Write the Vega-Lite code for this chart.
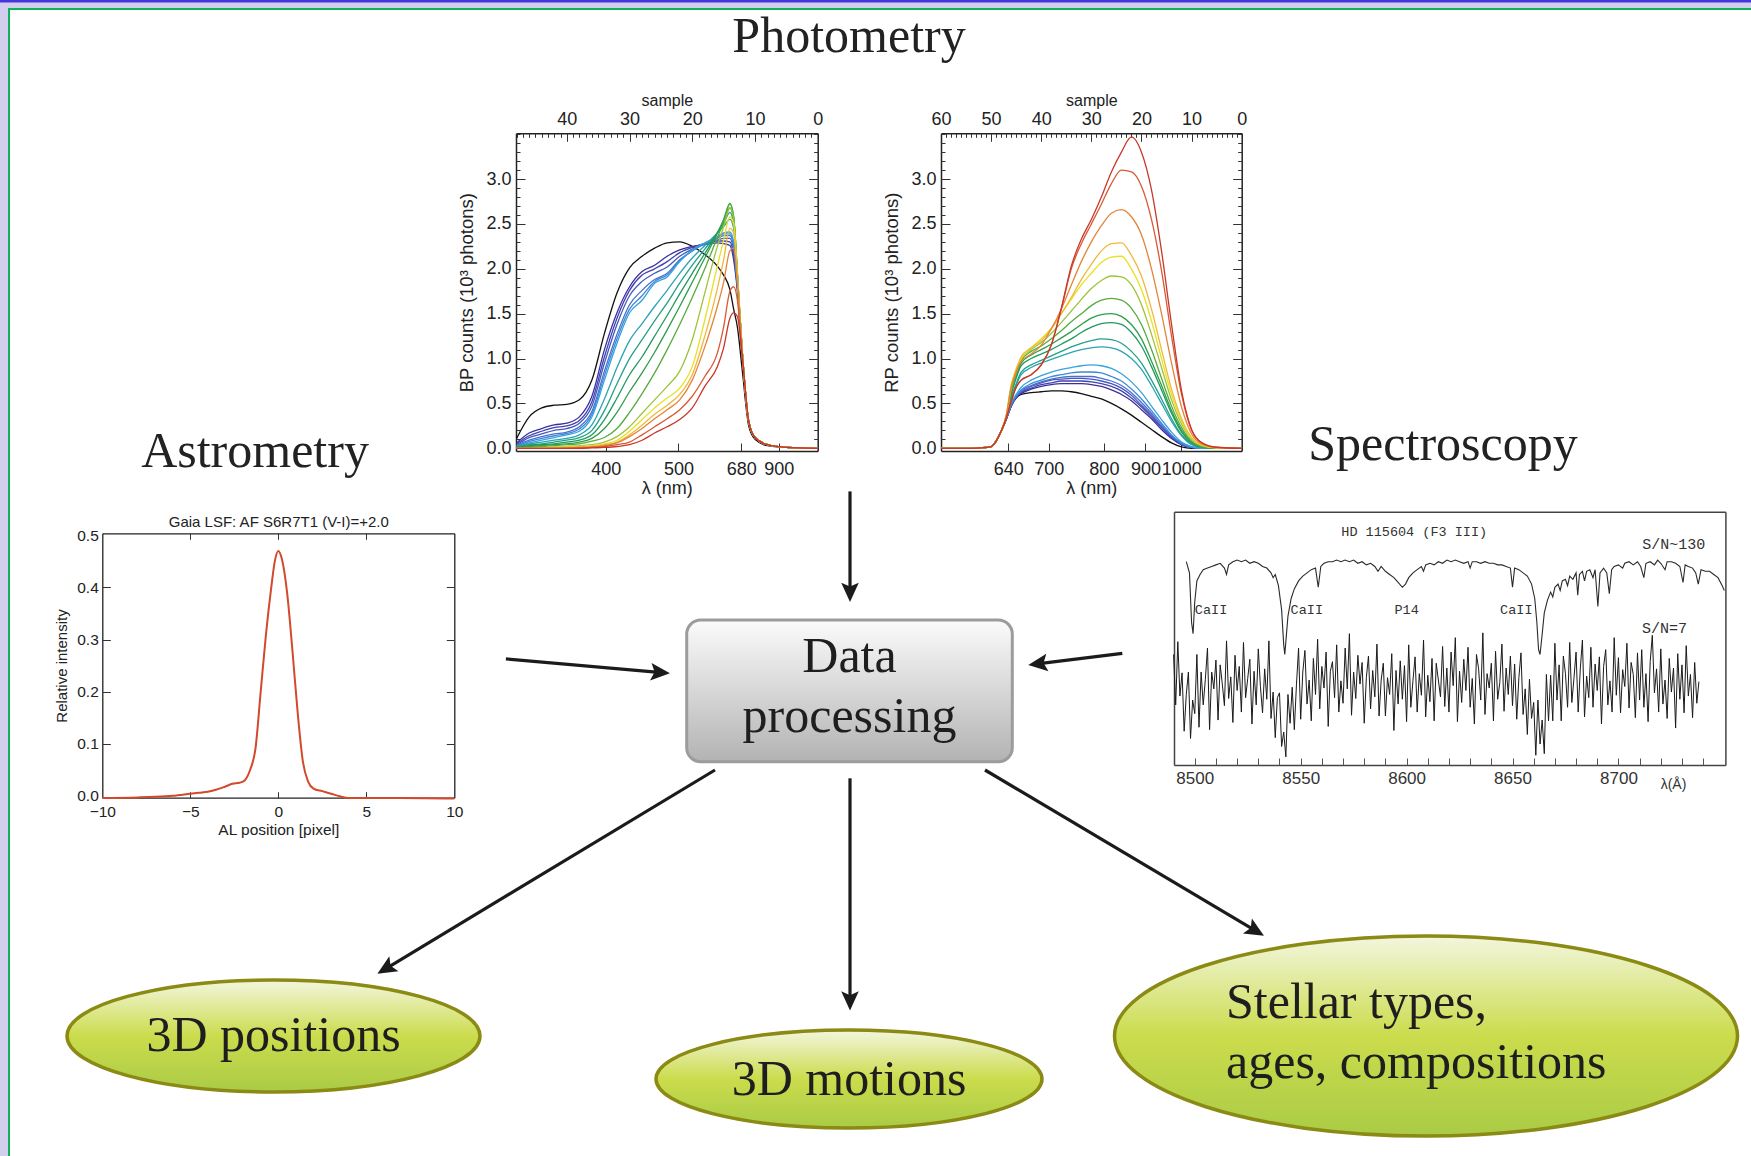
{
"$schema":"https://vega.github.io/schema/vega-lite/v6.json",
"width":1751,"height":1156,"autosize":{"type":"none"},"padding":0,"background":"#ffffff",
"config":{"view":{"stroke":null},"axis":{"grid":false,"labelFont":"Liberation Sans","titleFont":"Liberation Sans","labelColor":"#222222","titleColor":"#222222","domainColor":"#222222","tickColor":"#333333","titleFontWeight":"normal","labelFlush":false,"labelOverlap":false,"tickWidth":1,"domainWidth":1.5}},
"datasets":{
"page_bands":[{"x":0,"x2":1751,"y":0,"y2":9},{"x":0,"x2":9,"y":0,"y2":1156}],
"page_topline":[{"x":0,"x2":1751,"y":0,"y2":2.5}],
"page_green":[{"x":8,"x2":1751,"y":8,"y2":10},{"x":8,"x2":10,"y":8,"y2":1156}],
"section_titles":[{"label":"Photometry","x":849,"y":51.7},{"label":"Astrometry","x":255,"y":466.7},{"label":"Spectroscopy","x":1443,"y":460}],
"proc_box":[{"label":["Data","processing"],"x":686.7,"x2":1012.3,"y":620,"y2":761.7,"tx":849.5,"ty":671.7}],
"arrows":[{"link":"photometry","x0":850,"y0":491.4,"x1":850,"y1":591},{"link":"astrometry","x0":505.9,"y0":658.9,"x1":659,"y1":672.4},{"link":"spectroscopy","x0":1122.3,"y0":653.3,"x1":1039.2,"y1":663.6},{"link":"positions","x0":715,"y0":770,"x1":386.8,"y1":968.1},{"link":"motions","x0":850,"y0":778.3,"x1":850,"y1":999.6},{"link":"types","x0":985,"y0":770,"x1":1254.5,"y1":930.2}],
"outputs":[{"id":"pos","label":"3D positions","cx":273.5,"cy":1036,"tx":273.5,"ty":1051},{"id":"mot","label":"3D motions","cx":849,"cy":1079,"tx":849,"ty":1095},{"id":"typ","label":["Stellar types,","ages, compositions"],"cx":1426,"cy":1036,"tx":1226,"ty":1018}],
"bp":[
{"s":48,"c0":0.11,"c1":0.06,"c2":0.05,"c3":0.04,"c4":0.03,"c5":0.025,"c6":0.02,"c7":0.02,"c8":0.02,"c9":0.01,"c10":0.01,"c11":0,"c12":0,"c13":0,"c14":0,"c15":0,"c16":0,"c17":0},
{"s":46,"c0":0.35,"c1":0.17,"c2":0.14,"c3":0.12,"c4":0.09,"c5":0.075,"c6":0.06,"c7":0.05,"c8":0.04,"c9":0.03,"c10":0.02,"c11":0.01,"c12":0.005,"c13":0,"c14":0,"c15":0,"c16":0,"c17":0},
{"s":44,"c0":0.45,"c1":0.22,"c2":0.19,"c3":0.16,"c4":0.13,"c5":0.11,"c6":0.09,"c7":0.07,"c8":0.05,"c9":0.04,"c10":0.03,"c11":0.02,"c12":0.01,"c13":0.005,"c14":0,"c15":0,"c16":0,"c17":0},
{"s":42,"c0":0.48,"c1":0.26,"c2":0.23,"c3":0.2,"c4":0.16,"c5":0.14,"c6":0.12,"c7":0.09,"c8":0.07,"c9":0.05,"c10":0.04,"c11":0.03,"c12":0.015,"c13":0.01,"c14":0.005,"c15":0,"c16":0,"c17":0},
{"s":40,"c0":0.49,"c1":0.28,"c2":0.25,"c3":0.22,"c4":0.18,"c5":0.165,"c6":0.15,"c7":0.11,"c8":0.09,"c9":0.07,"c10":0.05,"c11":0.04,"c12":0.02,"c13":0.015,"c14":0.01,"c15":0.005,"c16":0,"c17":0},
{"s":38,"c0":0.54,"c1":0.35,"c2":0.31,"c3":0.28,"c4":0.24,"c5":0.215,"c6":0.19,"c7":0.15,"c8":0.12,"c9":0.09,"c10":0.07,"c11":0.05,"c12":0.03,"c13":0.02,"c14":0.015,"c15":0.01,"c16":0.005,"c17":0},
{"s":36,"c0":0.76,"c1":0.58,"c2":0.52,"c3":0.47,"c4":0.41,"c5":0.38,"c6":0.35,"c7":0.26,"c8":0.2,"c9":0.15,"c10":0.11,"c11":0.08,"c12":0.04,"c13":0.03,"c14":0.02,"c15":0.015,"c16":0.01,"c17":0.005},
{"s":34,"c0":1.28,"c1":1.1,"c2":1.02,"c3":0.95,"c4":0.86,"c5":0.81,"c6":0.76,"c7":0.55,"c8":0.42,"c9":0.32,"c10":0.22,"c11":0.12,"c12":0.07,"c13":0.05,"c14":0.04,"c15":0.03,"c16":0.02,"c17":0.01},
{"s":32,"c0":1.73,"c1":1.51,"c2":1.45,"c3":1.38,"c4":1.27,"c5":1.22,"c6":1.17,"c7":0.9,"c8":0.72,"c9":0.56,"c10":0.4,"c11":0.22,"c12":0.13,"c13":0.09,"c14":0.07,"c15":0.06,"c16":0.04,"c17":0.02},
{"s":30,"c0":2.01,"c1":1.8,"c2":1.76,"c3":1.7,"c4":1.6,"c5":1.55,"c6":1.51,"c7":1.2,"c8":1.0,"c9":0.82,"c10":0.63,"c11":0.4,"c12":0.24,"c13":0.19,"c14":0.15,"c15":0.13,"c16":0.07,"c17":0.04},
{"s":28,"c0":2.14,"c1":1.97,"c2":1.93,"c3":1.86,"c4":1.76,"c5":1.7,"c6":1.65,"c7":1.39,"c8":1.21,"c9":1.02,"c10":0.84,"c11":0.61,"c12":0.39,"c13":0.32,"c14":0.26,"c15":0.22,"c16":0.15,"c17":0.09},
{"s":26,"c0":2.23,"c1":2.04,"c2":2.0,"c3":1.95,"c4":1.88,"c5":1.86,"c6":1.84,"c7":1.58,"c8":1.42,"c9":1.25,"c10":1.07,"c11":0.84,"c12":0.54,"c13":0.45,"c14":0.38,"c15":0.33,"c16":0.24,"c17":0.17},
{"s":24,"c0":2.29,"c1":2.14,"c2":2.08,"c3":2.02,"c4":1.95,"c5":1.93,"c6":1.91,"c7":1.76,"c8":1.62,"c9":1.48,"c10":1.32,"c11":1.1,"c12":0.69,"c13":0.56,"c14":0.48,"c15":0.43,"c16":0.33,"c17":0.24},
{"s":22,"c0":2.3,"c1":2.21,"c2":2.18,"c3":2.14,"c4":2.1,"c5":2.09,"c6":2.08,"c7":1.95,"c8":1.84,"c9":1.72,"c10":1.58,"c11":1.38,"c12":0.86,"c13":0.67,"c14":0.6,"c15":0.54,"c16":0.43,"c17":0.32},
{"s":20,"c0":2.25,"c1":2.25,"c2":2.24,"c3":2.22,"c4":2.2,"c5":2.2,"c6":2.21,"c7":2.12,"c8":2.04,"c9":1.95,"c10":1.85,"c11":1.68,"c12":1.21,"c13":0.91,"c14":0.82,"c15":0.76,"c16":0.58,"c17":0.45},
{"s":18,"c0":2.16,"c1":2.27,"c2":2.28,"c3":2.28,"c4":2.28,"c5":2.28,"c6":2.29,"c7":2.26,"c8":2.22,"c9":2.17,"c10":2.12,"c11":2.0,"c12":1.73,"c13":1.43,"c14":1.25,"c15":1.13,"c16":0.8,"c17":0.69},
{"s":16,"c0":2.03,"c1":2.29,"c2":2.31,"c3":2.32,"c4":2.34,"c5":2.35,"c6":2.36,"c7":2.4,"c8":2.4,"c9":2.4,"c10":2.4,"c11":2.35,"c12":2.25,"c13":2.03,"c14":1.78,"c15":1.58,"c16":1.06,"c17":0.91},
{"s":15,"c0":1.93,"c1":2.28,"c2":2.31,"c3":2.34,"c4":2.37,"c5":2.39,"c6":2.4,"c7":2.47,"c8":2.5,"c9":2.52,"c10":2.55,"c11":2.52,"c12":2.47,"c13":2.32,"c14":2.1,"c15":1.85,"c16":1.35,"c17":1.12},
{"s":14,"c0":1.77,"c1":2.26,"c2":2.3,"c3":2.34,"c4":2.37,"c5":2.39,"c6":2.41,"c7":2.55,"c8":2.63,"c9":2.68,"c10":2.73,"c11":2.72,"c12":2.68,"c13":2.58,"c14":2.45,"c15":2.2,"c16":1.75,"c17":1.45},
{"s":13.4,"c0":1.55,"c1":2.1,"c2":2.15,"c3":2.2,"c4":2.25,"c5":2.27,"c6":2.3,"c7":2.45,"c8":2.5,"c9":2.55,"c10":2.58,"c11":2.58,"c12":2.56,"c13":2.5,"c14":2.4,"c15":2.23,"c16":1.8,"c17":1.51},
{"s":12.8,"c0":1.35,"c1":1.75,"c2":1.78,"c3":1.8,"c4":1.82,"c5":1.83,"c6":1.84,"c7":1.88,"c8":1.9,"c9":1.92,"c10":1.95,"c11":1.95,"c12":1.95,"c13":1.92,"c14":1.9,"c15":1.85,"c16":1.65,"c17":1.47},
{"s":12,"c0":0.85,"c1":1.0,"c2":1.02,"c3":1.03,"c4":1.04,"c5":1.05,"c6":1.05,"c7":1.05,"c8":1.05,"c9":1.05,"c10":1.05,"c11":1.05,"c12":1.05,"c13":1.05,"c14":1.05,"c15":1.05,"c16":1.0,"c17":1.0},
{"s":11,"c0":0.25,"c1":0.3,"c2":0.3,"c3":0.3,"c4":0.3,"c5":0.3,"c6":0.3,"c7":0.3,"c8":0.3,"c9":0.3,"c10":0.3,"c11":0.3,"c12":0.3,"c13":0.3,"c14":0.3,"c15":0.3,"c16":0.3,"c17":0.3},
{"s":10,"c0":0.1,"c1":0.12,"c2":0.12,"c3":0.12,"c4":0.12,"c5":0.12,"c6":0.12,"c7":0.12,"c8":0.12,"c9":0.12,"c10":0.12,"c11":0.12,"c12":0.12,"c13":0.12,"c14":0.12,"c15":0.12,"c16":0.12,"c17":0.12},
{"s":8,"c0":0.03,"c1":0.04,"c2":0.04,"c3":0.04,"c4":0.04,"c5":0.04,"c6":0.04,"c7":0.04,"c8":0.04,"c9":0.04,"c10":0.04,"c11":0.04,"c12":0.04,"c13":0.04,"c14":0.04,"c15":0.04,"c16":0.04,"c17":0.04},
{"s":5,"c0":0.01,"c1":0.01,"c2":0.01,"c3":0.01,"c4":0.01,"c5":0.01,"c6":0.01,"c7":0.01,"c8":0.01,"c9":0.01,"c10":0.01,"c11":0.01,"c12":0.01,"c13":0.01,"c14":0.01,"c15":0.01,"c16":0.01,"c17":0.01},
{"s":0,"c0":0,"c1":0,"c2":0,"c3":0,"c4":0,"c5":0,"c6":0,"c7":0,"c8":0,"c9":0,"c10":0,"c11":0,"c12":0,"c13":0,"c14":0,"c15":0,"c16":0,"c17":0}
],
"rp":[
{"s":60,"c0":0,"c1":0,"c2":0,"c3":0,"c4":0,"c5":0,"c6":0,"c7":0,"c8":0,"c9":0,"c10":0,"c11":0,"c12":0,"c13":0,"c14":0,"c15":0,"c16":0,"c17":0},
{"s":54,"c0":0,"c1":0,"c2":0,"c3":0,"c4":0,"c5":0,"c6":0,"c7":0,"c8":0,"c9":0,"c10":0,"c11":0,"c12":0,"c13":0,"c14":0,"c15":0,"c16":0,"c17":0},
{"s":52,"c0":0.005,"c1":0.005,"c2":0.005,"c3":0.005,"c4":0.005,"c5":0.005,"c6":0.005,"c7":0.005,"c8":0.005,"c9":0.005,"c10":0.005,"c11":0.005,"c12":0.005,"c13":0.005,"c14":0.005,"c15":0.005,"c16":0.005,"c17":0.005},
{"s":50,"c0":0.02,"c1":0.02,"c2":0.02,"c3":0.02,"c4":0.02,"c5":0.02,"c6":0.02,"c7":0.02,"c8":0.02,"c9":0.02,"c10":0.02,"c11":0.02,"c12":0.02,"c13":0.02,"c14":0.02,"c15":0.02,"c16":0.02,"c17":0.02},
{"s":49,"c0":0.08,"c1":0.08,"c2":0.08,"c3":0.08,"c4":0.08,"c5":0.08,"c6":0.08,"c7":0.08,"c8":0.08,"c9":0.08,"c10":0.08,"c11":0.08,"c12":0.08,"c13":0.08,"c14":0.08,"c15":0.08,"c16":0.08,"c17":0.08},
{"s":48,"c0":0.19,"c1":0.19,"c2":0.19,"c3":0.19,"c4":0.19,"c5":0.19,"c6":0.19,"c7":0.19,"c8":0.19,"c9":0.19,"c10":0.19,"c11":0.19,"c12":0.19,"c13":0.19,"c14":0.19,"c15":0.19,"c16":0.19,"c17":0.19},
{"s":47,"c0":0.32,"c1":0.32,"c2":0.32,"c3":0.32,"c4":0.32,"c5":0.32,"c6":0.32,"c7":0.34,"c8":0.34,"c9":0.34,"c10":0.34,"c11":0.34,"c12":0.36,"c13":0.36,"c14":0.36,"c15":0.36,"c16":0.33,"c17":0.33},
{"s":46,"c0":0.47,"c1":0.47,"c2":0.47,"c3":0.48,"c4":0.48,"c5":0.49,"c6":0.5,"c7":0.55,"c8":0.57,"c9":0.6,"c10":0.62,"c11":0.64,"c12":0.66,"c13":0.7,"c14":0.7,"c15":0.68,"c16":0.52,"c17":0.52},
{"s":45,"c0":0.56,"c1":0.57,"c2":0.57,"c3":0.58,"c4":0.58,"c5":0.58,"c6":0.6,"c7":0.7,"c8":0.72,"c9":0.78,"c10":0.8,"c11":0.83,"c12":0.86,"c13":0.88,"c14":0.88,"c15":0.85,"c16":0.68,"c17":0.68},
{"s":44,"c0":0.6,"c1":0.61,"c2":0.62,"c3":0.63,"c4":0.64,"c5":0.65,"c6":0.68,"c7":0.82,"c8":0.85,"c9":0.92,"c10":0.95,"c11":0.98,"c12":1.0,"c13":1.0,"c14":1.02,"c15":0.97,"c16":0.76,"c17":0.76},
{"s":42,"c0":0.62,"c1":0.66,"c2":0.67,"c3":0.69,"c4":0.7,"c5":0.72,"c6":0.76,"c7":0.9,"c8":0.93,"c9":1.0,"c10":1.04,"c11":1.08,"c12":1.1,"c13":1.12,"c14":1.12,"c15":1.05,"c16":0.82,"c17":0.82},
{"s":40,"c0":0.63,"c1":0.69,"c2":0.71,"c3":0.73,"c4":0.74,"c5":0.76,"c6":0.81,"c7":0.95,"c8":0.98,"c9":1.05,"c10":1.1,"c11":1.14,"c12":1.18,"c13":1.22,"c14":1.2,"c15":1.15,"c16":0.93,"c17":0.93},
{"s":38,"c0":0.64,"c1":0.71,"c2":0.73,"c3":0.76,"c4":0.77,"c5":0.8,"c6":0.85,"c7":0.99,"c8":1.03,"c9":1.1,"c10":1.16,"c11":1.22,"c12":1.28,"c13":1.34,"c14":1.33,"c15":1.33,"c16":1.15,"c17":1.15},
{"s":36,"c0":0.64,"c1":0.72,"c2":0.75,"c3":0.77,"c4":0.79,"c5":0.82,"c6":0.88,"c7":1.03,"c8":1.08,"c9":1.16,"c10":1.23,"c11":1.31,"c12":1.4,"c13":1.5,"c14":1.5,"c15":1.55,"c16":1.55,"c17":1.56},
{"s":34,"c0":0.63,"c1":0.72,"c2":0.75,"c3":0.78,"c4":0.8,"c5":0.84,"c6":0.9,"c7":1.07,"c8":1.13,"c9":1.22,"c10":1.3,"c11":1.41,"c12":1.53,"c13":1.66,"c14":1.68,"c15":1.82,"c16":2.0,"c17":2.03},
{"s":32,"c0":0.61,"c1":0.72,"c2":0.75,"c3":0.78,"c4":0.8,"c5":0.85,"c6":0.92,"c7":1.1,"c8":1.17,"c9":1.29,"c10":1.38,"c11":1.5,"c12":1.66,"c13":1.82,"c14":1.88,"c15":2.08,"c16":2.28,"c17":2.33},
{"s":30,"c0":0.58,"c1":0.71,"c2":0.74,"c3":0.77,"c4":0.8,"c5":0.85,"c6":0.93,"c7":1.12,"c8":1.2,"c9":1.35,"c10":1.45,"c11":1.59,"c12":1.78,"c13":1.95,"c14":2.05,"c15":2.3,"c16":2.5,"c17":2.55},
{"s":28,"c0":0.55,"c1":0.69,"c2":0.72,"c3":0.75,"c4":0.78,"c5":0.84,"c6":0.92,"c7":1.13,"c8":1.22,"c9":1.39,"c10":1.49,"c11":1.65,"c12":1.87,"c13":2.07,"c14":2.2,"c15":2.48,"c16":2.72,"c17":2.8},
{"s":26,"c0":0.5,"c1":0.65,"c2":0.69,"c3":0.72,"c4":0.75,"c5":0.8,"c6":0.89,"c7":1.12,"c8":1.21,"c9":1.4,"c10":1.5,"c11":1.67,"c12":1.92,"c13":2.13,"c14":2.28,"c15":2.62,"c16":2.95,"c17":3.08},
{"s":24,"c0":0.44,"c1":0.6,"c2":0.64,"c3":0.67,"c4":0.7,"c5":0.75,"c6":0.83,"c7":1.08,"c8":1.17,"c9":1.38,"c10":1.47,"c11":1.65,"c12":1.91,"c13":2.14,"c14":2.29,"c15":2.66,"c16":3.1,"c17":3.3},
{"s":22,"c0":0.37,"c1":0.53,"c2":0.56,"c3":0.59,"c4":0.62,"c5":0.66,"c6":0.74,"c7":1.0,"c8":1.08,"c9":1.29,"c10":1.38,"c11":1.56,"c12":1.82,"c13":2.0,"c14":2.15,"c15":2.58,"c16":3.08,"c17":3.47},
{"s":20,"c0":0.29,"c1":0.43,"c2":0.46,"c3":0.48,"c4":0.51,"c5":0.55,"c6":0.62,"c7":0.88,"c8":0.95,"c9":1.14,"c10":1.22,"c11":1.38,"c12":1.6,"c13":1.77,"c14":1.92,"c15":2.38,"c16":2.92,"c17":3.3},
{"s":18,"c0":0.21,"c1":0.33,"c2":0.35,"c3":0.37,"c4":0.39,"c5":0.42,"c6":0.47,"c7":0.7,"c8":0.76,"c9":0.91,"c10":0.97,"c11":1.1,"c12":1.27,"c13":1.42,"c14":1.55,"c15":2.0,"c16":2.55,"c17":2.88},
{"s":16,"c0":0.13,"c1":0.21,"c2":0.23,"c3":0.24,"c4":0.26,"c5":0.28,"c6":0.32,"c7":0.5,"c8":0.55,"c9":0.65,"c10":0.7,"c11":0.78,"c12":0.9,"c13":1.0,"c14":1.1,"c15":1.5,"c16":1.98,"c17":2.2},
{"s":14,"c0":0.06,"c1":0.11,"c2":0.12,"c3":0.13,"c4":0.14,"c5":0.15,"c6":0.18,"c7":0.3,"c8":0.33,"c9":0.39,"c10":0.42,"c11":0.47,"c12":0.54,"c13":0.6,"c14":0.66,"c15":0.95,"c16":1.25,"c17":1.38},
{"s":12,"c0":0.015,"c1":0.04,"c2":0.04,"c3":0.05,"c4":0.05,"c5":0.06,"c6":0.07,"c7":0.14,"c8":0.15,"c9":0.18,"c10":0.2,"c11":0.23,"c12":0.27,"c13":0.3,"c14":0.33,"c15":0.46,"c16":0.6,"c17":0.64},
{"s":10,"c0":0,"c1":0.01,"c2":0.01,"c3":0.01,"c4":0.01,"c5":0.015,"c6":0.02,"c7":0.04,"c8":0.05,"c9":0.06,"c10":0.07,"c11":0.08,"c12":0.1,"c13":0.11,"c14":0.12,"c15":0.16,"c16":0.2,"c17":0.21},
{"s":8,"c0":0,"c1":0,"c2":0,"c3":0,"c4":0,"c5":0,"c6":0,"c7":0.01,"c8":0.01,"c9":0.015,"c10":0.02,"c11":0.02,"c12":0.03,"c13":0.035,"c14":0.04,"c15":0.05,"c16":0.06,"c17":0.065},
{"s":5,"c0":0,"c1":0,"c2":0,"c3":0,"c4":0,"c5":0,"c6":0,"c7":0,"c8":0,"c9":0,"c10":0,"c11":0,"c12":0.005,"c13":0.005,"c14":0.008,"c15":0.01,"c16":0.01,"c17":0.012},
{"s":0,"c0":0,"c1":0,"c2":0,"c3":0,"c4":0,"c5":0,"c6":0,"c7":0,"c8":0,"c9":0,"c10":0,"c11":0,"c12":0,"c13":0,"c14":0,"c15":0,"c16":0,"c17":0}
],
"lsf":[{"pos":-10,"intensity":-0.004},{"pos":-8,"intensity":-0.003},{"pos":-7,"intensity":-0.002},{"pos":-6,"intensity":0.0},{"pos":-5,"intensity":0.004},{"pos":-4.5,"intensity":0.006},{"pos":-4,"intensity":0.008},{"pos":-3.5,"intensity":0.012},{"pos":-3,"intensity":0.018},{"pos":-2.6,"intensity":0.023},{"pos":-2.2,"intensity":0.025},{"pos":-1.9,"intensity":0.03},{"pos":-1.6,"intensity":0.05},{"pos":-1.3,"intensity":0.09},{"pos":-1.0,"intensity":0.2},{"pos":-0.7,"intensity":0.31},{"pos":-0.4,"intensity":0.4},{"pos":-0.2,"intensity":0.45},{"pos":0,"intensity":0.47},{"pos":0.2,"intensity":0.455},{"pos":0.5,"intensity":0.39},{"pos":0.8,"intensity":0.28},{"pos":1.1,"intensity":0.16},{"pos":1.4,"intensity":0.065},{"pos":1.7,"intensity":0.027},{"pos":2.0,"intensity":0.014},{"pos":2.5,"intensity":0.009},{"pos":3.0,"intensity":0.004},{"pos":3.5,"intensity":-0.001},{"pos":4.0,"intensity":-0.004},{"pos":5,"intensity":-0.004},{"pos":7,"intensity":-0.004},{"pos":10,"intensity":-0.005}],
"spec_hi":[{"wl":8496,"flux":1.0},{"wl":8497.5,"flux":0.93},{"wl":8498.5,"flux":0.62},{"wl":8499.2,"flux":0.55},{"wl":8500,"flux":0.75},{"wl":8501,"flux":0.88},{"wl":8502.5,"flux":0.92},{"wl":8504,"flux":0.95},{"wl":8506,"flux":0.96},{"wl":8508,"flux":0.97},{"wl":8510,"flux":0.98},{"wl":8512,"flux":0.99},{"wl":8514,"flux":0.96},{"wl":8515,"flux":0.92},{"wl":8516,"flux":0.98},{"wl":8518,"flux":1.0},{"wl":8520,"flux":1.01},{"wl":8522,"flux":1.0},{"wl":8524,"flux":1.01},{"wl":8526,"flux":0.99},{"wl":8528,"flux":1.0},{"wl":8530,"flux":0.99},{"wl":8532,"flux":0.97},{"wl":8534,"flux":0.96},{"wl":8536,"flux":0.93},{"wl":8537,"flux":0.9},{"wl":8538,"flux":0.92},{"wl":8539.5,"flux":0.85},{"wl":8541,"flux":0.7},{"wl":8542,"flux":0.48},{"wl":8542.5,"flux":0.42},{"wl":8543,"flux":0.5},{"wl":8544,"flux":0.66},{"wl":8545.5,"flux":0.77},{"wl":8547,"flux":0.83},{"wl":8549,"flux":0.88},{"wl":8551,"flux":0.91},{"wl":8553,"flux":0.93},{"wl":8555,"flux":0.95},{"wl":8557,"flux":0.96},{"wl":8558.3,"flux":0.84},{"wl":8559.5,"flux":0.97},{"wl":8561,"flux":0.99},{"wl":8563,"flux":1.0},{"wl":8565,"flux":1.0},{"wl":8567,"flux":1.01},{"wl":8569,"flux":1.0},{"wl":8571,"flux":1.01},{"wl":8573,"flux":1.0},{"wl":8575,"flux":1.01},{"wl":8577,"flux":0.99},{"wl":8579,"flux":1.0},{"wl":8581,"flux":0.98},{"wl":8583,"flux":0.99},{"wl":8585,"flux":0.97},{"wl":8586.5,"flux":0.94},{"wl":8588,"flux":0.97},{"wl":8590,"flux":0.94},{"wl":8592,"flux":0.92},{"wl":8594,"flux":0.9},{"wl":8596,"flux":0.87},{"wl":8598,"flux":0.84},{"wl":8599.5,"flux":0.86},{"wl":8601,"flux":0.9},{"wl":8603,"flux":0.93},{"wl":8605,"flux":0.95},{"wl":8607,"flux":0.97},{"wl":8608,"flux":0.94},{"wl":8609,"flux":0.98},{"wl":8611,"flux":0.99},{"wl":8613,"flux":0.98},{"wl":8615,"flux":1.0},{"wl":8617,"flux":0.99},{"wl":8619,"flux":1.01},{"wl":8621,"flux":1.0},{"wl":8623,"flux":1.01},{"wl":8625,"flux":1.0},{"wl":8627,"flux":0.99},{"wl":8629,"flux":1.0},{"wl":8630,"flux":0.96},{"wl":8631,"flux":1.0},{"wl":8633,"flux":1.0},{"wl":8635,"flux":0.99},{"wl":8637,"flux":1.0},{"wl":8639,"flux":0.99},{"wl":8641,"flux":0.99},{"wl":8643,"flux":0.98},{"wl":8645,"flux":0.98},{"wl":8647,"flux":0.97},{"wl":8649,"flux":0.96},{"wl":8650,"flux":0.84},{"wl":8651,"flux":0.96},{"wl":8653,"flux":0.95},{"wl":8655,"flux":0.93},{"wl":8657,"flux":0.91},{"wl":8659,"flux":0.86},{"wl":8660.5,"flux":0.77},{"wl":8661.5,"flux":0.62},{"wl":8662.3,"flux":0.45},{"wl":8663,"flux":0.42},{"wl":8663.8,"flux":0.52},{"wl":8665,"flux":0.68},{"wl":8666.5,"flux":0.76},{"wl":8668,"flux":0.81},{"wl":8669,"flux":0.78},{"wl":8670,"flux":0.84},{"wl":8671.5,"flux":0.86},{"wl":8672.5,"flux":0.82},{"wl":8673.5,"flux":0.88},{"wl":8675,"flux":0.89},{"wl":8676,"flux":0.85},{"wl":8677,"flux":0.91},{"wl":8678.5,"flux":0.89},{"wl":8680,"flux":0.93},{"wl":8680.8,"flux":0.79},{"wl":8681.6,"flux":0.92},{"wl":8683,"flux":0.94},{"wl":8684,"flux":0.88},{"wl":8685,"flux":0.94},{"wl":8686.5,"flux":0.95},{"wl":8688,"flux":0.9},{"wl":8689,"flux":0.95},{"wl":8690.3,"flux":0.72},{"wl":8691.3,"flux":0.93},{"wl":8693,"flux":0.96},{"wl":8694.5,"flux":0.93},{"wl":8695.7,"flux":0.8},{"wl":8696.8,"flux":0.95},{"wl":8698,"flux":0.97},{"wl":8700,"flux":0.98},{"wl":8702,"flux":0.96},{"wl":8703,"flux":0.99},{"wl":8705,"flux":1.0},{"wl":8707,"flux":0.98},{"wl":8709,"flux":1.0},{"wl":8710.5,"flux":0.97},{"wl":8712,"flux":0.9},{"wl":8713,"flux":0.99},{"wl":8715,"flux":1.0},{"wl":8717,"flux":0.98},{"wl":8718.5,"flux":1.01},{"wl":8720,"flux":0.99},{"wl":8722,"flux":0.95},{"wl":8723,"flux":1.0},{"wl":8725,"flux":1.0},{"wl":8727,"flux":0.99},{"wl":8729,"flux":0.97},{"wl":8730.5,"flux":0.87},{"wl":8731.5,"flux":0.98},{"wl":8733,"flux":0.97},{"wl":8735,"flux":0.96},{"wl":8736.5,"flux":0.93},{"wl":8737.7,"flux":0.86},{"wl":8739,"flux":0.95},{"wl":8741,"flux":0.94},{"wl":8743,"flux":0.94},{"wl":8745,"flux":0.92},{"wl":8747,"flux":0.9},{"wl":8749,"flux":0.85},{"wl":8750,"flux":0.82}],
"spec_lo":[{"wl":8490,"flux":0.42},{"wl":8491,"flux":0.105},{"wl":8492,"flux":0.5},{"wl":8493,"flux":0.16},{"wl":8494,"flux":0.305},{"wl":8495,"flux":-0.06},{"wl":8496,"flux":0.17},{"wl":8497,"flux":0.31},{"wl":8498,"flux":-0.105},{"wl":8499,"flux":0.135},
{"wl":8500,"flux":0.05},{"wl":8501,"flux":0.42},{"wl":8502,"flux":-0.035},{"wl":8503,"flux":0.31},{"wl":8504,"flux":0.105},{"wl":8505,"flux":0.265},{"wl":8506,"flux":0.46},{"wl":8507,"flux":-0.05},{"wl":8508,"flux":0.31},{"wl":8509,"flux":0.205},
{"wl":8510,"flux":0.385},{"wl":8511,"flux":0.01},{"wl":8512,"flux":0.355},{"wl":8513,"flux":0.235},{"wl":8514,"flux":0.1},{"wl":8515,"flux":0.505},{"wl":8516,"flux":0.145},{"wl":8517,"flux":0.28},{"wl":8518,"flux":-0.005},{"wl":8519,"flux":0.415},
{"wl":8520,"flux":0.195},{"wl":8521,"flux":0.345},{"wl":8522,"flux":0.06},{"wl":8523,"flux":0.495},{"wl":8524,"flux":0.15},{"wl":8525,"flux":0.27},{"wl":8526,"flux":0.39},{"wl":8527,"flux":-0.015},{"wl":8528,"flux":0.315},{"wl":8529,"flux":0.105},
{"wl":8530,"flux":0.455},{"wl":8531,"flux":0.22},{"wl":8532,"flux":0.055},{"wl":8533,"flux":0.33},{"wl":8534,"flux":0.14},{"wl":8535,"flux":0.505},{"wl":8536,"flux":0.02},{"wl":8537,"flux":0.185},{"wl":8538,"flux":-0.1},{"wl":8539,"flux":0.15},
{"wl":8540,"flux":0.18},{"wl":8541,"flux":-0.155},{"wl":8542,"flux":-0.065},{"wl":8543,"flux":-0.22},{"wl":8544,"flux":0.17},{"wl":8545,"flux":-0.01},{"wl":8546,"flux":0.215},{"wl":8547,"flux":-0.05},{"wl":8548,"flux":0.23},{"wl":8549,"flux":0.46},
{"wl":8550,"flux":0.015},{"wl":8551,"flux":0.31},{"wl":8552,"flux":0.445},{"wl":8553,"flux":0.11},{"wl":8554,"flux":0.26},{"wl":8555,"flux":0.005},{"wl":8556,"flux":0.395},{"wl":8557,"flux":0.17},{"wl":8558,"flux":0.515},{"wl":8559,"flux":0.08},
{"wl":8560,"flux":0.345},{"wl":8561,"flux":0.21},{"wl":8562,"flux":0.435},{"wl":8563,"flux":-0.03},{"wl":8564,"flux":0.315},{"wl":8565,"flux":0.375},{"wl":8566,"flux":0.15},{"wl":8567,"flux":0.48},{"wl":8568,"flux":0.06},{"wl":8569,"flux":0.255},
{"wl":8570,"flux":0.115},{"wl":8571,"flux":0.46},{"wl":8572,"flux":0.205},{"wl":8573,"flux":0.55},{"wl":8574,"flux":0.04},{"wl":8575,"flux":0.31},{"wl":8576,"flux":0.145},{"wl":8577,"flux":0.415},{"wl":8578,"flux":0.235},{"wl":8579,"flux":0.37},
{"wl":8580,"flux":-0.01},{"wl":8581,"flux":0.275},{"wl":8582,"flux":0.41},{"wl":8583,"flux":0.08},{"wl":8584,"flux":0.32},{"wl":8585,"flux":0.155},{"wl":8586,"flux":0.485},{"wl":8587,"flux":0.035},{"wl":8588,"flux":0.26},{"wl":8589,"flux":0.365},
{"wl":8590,"flux":0.035},{"wl":8591,"flux":0.275},{"wl":8592,"flux":0.17},{"wl":8593,"flux":0.425},{"wl":8594,"flux":-0.055},{"wl":8595,"flux":0.32},{"wl":8596,"flux":0.11},{"wl":8597,"flux":0.38},{"wl":8598,"flux":0.14},{"wl":8599,"flux":0.35},
{"wl":8600,"flux":0.0},{"wl":8601,"flux":0.48},{"wl":8602,"flux":0.09},{"wl":8603,"flux":0.255},{"wl":8604,"flux":0.405},{"wl":8605,"flux":0.06},{"wl":8606,"flux":0.3},{"wl":8607,"flux":0.165},{"wl":8608,"flux":0.51},{"wl":8609,"flux":0.03},
{"wl":8610,"flux":0.29},{"wl":8611,"flux":0.125},{"wl":8612,"flux":0.395},{"wl":8613,"flux":0.005},{"wl":8614,"flux":0.365},{"wl":8615,"flux":0.26},{"wl":8616,"flux":0.155},{"wl":8617,"flux":0.47},{"wl":8618,"flux":0.095},{"wl":8619,"flux":0.335},
{"wl":8620,"flux":0.06},{"wl":8621,"flux":0.435},{"wl":8622,"flux":0.225},{"wl":8623,"flux":0.525},{"wl":8624,"flux":0.0},{"wl":8625,"flux":0.315},{"wl":8626,"flux":0.12},{"wl":8627,"flux":0.39},{"wl":8628,"flux":0.195},{"wl":8629,"flux":0.465},
{"wl":8630,"flux":0.09},{"wl":8631,"flux":0.27},{"wl":8632,"flux":-0.015},{"wl":8633,"flux":0.42},{"wl":8634,"flux":0.33},{"wl":8635,"flux":0.135},{"wl":8636,"flux":0.555},{"wl":8637,"flux":0.045},{"wl":8638,"flux":0.3},{"wl":8639,"flux":0.21},
{"wl":8640,"flux":0.365},{"wl":8641,"flux":0.005},{"wl":8642,"flux":0.44},{"wl":8643,"flux":0.14},{"wl":8644,"flux":0.245},{"wl":8645,"flux":0.485},{"wl":8646,"flux":0.065},{"wl":8647,"flux":0.335},{"wl":8648,"flux":0.17},{"wl":8649,"flux":0.41},
{"wl":8650,"flux":0.1},{"wl":8651,"flux":0.36},{"wl":8652,"flux":0.015},{"wl":8653,"flux":0.275},{"wl":8654,"flux":0.43},{"wl":8655,"flux":0.045},{"wl":8656,"flux":0.205},{"wl":8657,"flux":-0.08},{"wl":8658,"flux":0.265},{"wl":8659,"flux":0.02},
{"wl":8660,"flux":0.12},{"wl":8661,"flux":-0.21},{"wl":8662,"flux":0.135},{"wl":8663,"flux":-0.14},{"wl":8664,"flux":0.01},{"wl":8665,"flux":-0.2},{"wl":8666,"flux":0.295},{"wl":8667,"flux":0.005},{"wl":8668,"flux":0.29},{"wl":8669,"flux":0.005},
{"wl":8670,"flux":0.49},{"wl":8671,"flux":0.135},{"wl":8672,"flux":0.355},{"wl":8673,"flux":0.005},{"wl":8674,"flux":0.41},{"wl":8675,"flux":0.3},{"wl":8676,"flux":0.09},{"wl":8677,"flux":0.495},{"wl":8678,"flux":0.12},{"wl":8679,"flux":0.27},
{"wl":8680,"flux":0.435},{"wl":8681,"flux":0.06},{"wl":8682,"flux":0.33},{"wl":8683,"flux":0.51},{"wl":8684,"flux":0.03},{"wl":8685,"flux":0.285},{"wl":8686,"flux":0.15},{"wl":8687,"flux":0.465},{"wl":8688,"flux":0.09},{"wl":8689,"flux":0.36},
{"wl":8690,"flux":0.195},{"wl":8691,"flux":0.405},{"wl":8692,"flux":-0.015},{"wl":8693,"flux":0.345},{"wl":8694,"flux":0.45},{"wl":8695,"flux":0.105},{"wl":8696,"flux":0.255},{"wl":8697,"flux":0.06},{"wl":8698,"flux":0.525},{"wl":8699,"flux":0.165},
{"wl":8700,"flux":0.4},{"wl":8701,"flux":0.055},{"wl":8702,"flux":0.325},{"wl":8703,"flux":0.22},{"wl":8704,"flux":0.49},{"wl":8705,"flux":0.085},{"wl":8706,"flux":0.37},{"wl":8707,"flux":0.295},{"wl":8708,"flux":0.025},{"wl":8709,"flux":0.43},
{"wl":8710,"flux":0.135},{"wl":8711,"flux":0.45},{"wl":8712,"flux":0.09},{"wl":8713,"flux":0.3},{"wl":8714,"flux":0.0},{"wl":8715,"flux":0.375},{"wl":8716,"flux":0.54},{"wl":8717,"flux":0.18},{"wl":8718,"flux":0.33},{"wl":8719,"flux":0.06},
{"wl":8720,"flux":0.455},{"wl":8721,"flux":0.11},{"wl":8722,"flux":0.26},{"wl":8723,"flux":0.02},{"wl":8724,"flux":0.395},{"wl":8725,"flux":0.185},{"wl":8726,"flux":0.335},{"wl":8727,"flux":-0.04},{"wl":8728,"flux":0.425},{"wl":8729,"flux":0.14},
{"wl":8730,"flux":0.355},{"wl":8731,"flux":0.055},{"wl":8732,"flux":0.475},{"wl":8733,"flux":0.16},{"wl":8734,"flux":0.295},{"wl":8735,"flux":0.025},{"wl":8736,"flux":0.37},{"wl":8737,"flux":0.115},{"wl":8738,"flux":0.25}],
"spec_notes":[{"wl":8603.6,"flux":1.184,"label":"HD 115604 (F3 III)"},{"wl":8507.7,"flux":0.7,"label":"CaII"},{"wl":8552.9,"flux":0.7,"label":"CaII"},{"wl":8600,"flux":0.7,"label":"P14"},{"wl":8651.8,"flux":0.7,"label":"CaII"}],
"spec_sn":[{"wl":8726.1,"flux":1.11,"label":"S/N~130"},{"wl":8721.8,"flux":0.584,"label":"S/N=7"}],
"spec_unit":[{"wl":8726,"flux":-0.396,"label":"λ(Å)"}]
},
"layer":[
{
"layer":[
{"data":{"name":"page_bands"},"mark":{"type":"rect","color":"#d0d0ee"},"encoding":{"x":{"field":"x","type":"quantitative","scale":{"domain":[0,1751],"range":[0,1751],"nice":false,"zero":false},"axis":null},"x2":{"field":"x2"},"y":{"field":"y","type":"quantitative","scale":{"domain":[0,1156],"range":[0,1156],"nice":false,"zero":false},"axis":null},"y2":{"field":"y2"}}},
{"data":{"name":"page_topline"},"mark":{"type":"rect","color":"#4636de"},"encoding":{"x":{"field":"x","type":"quantitative","scale":{"domain":[0,1751],"range":[0,1751],"nice":false,"zero":false},"axis":null},"x2":{"field":"x2"},"y":{"field":"y","type":"quantitative","scale":{"domain":[0,1156],"range":[0,1156],"nice":false,"zero":false},"axis":null},"y2":{"field":"y2"}}},
{"data":{"name":"page_green"},"mark":{"type":"rect","color":"#12b05a"},"encoding":{"x":{"field":"x","type":"quantitative","scale":{"domain":[0,1751],"range":[0,1751],"nice":false,"zero":false},"axis":null},"x2":{"field":"x2"},"y":{"field":"y","type":"quantitative","scale":{"domain":[0,1156],"range":[0,1156],"nice":false,"zero":false},"axis":null},"y2":{"field":"y2"}}},
{"data":{"name":"section_titles"},"mark":{"type":"text","font":"Liberation Serif","fontSize":50,"color":"#222222","align":"center","baseline":"alphabetic"},"encoding":{"x":{"field":"x","type":"quantitative","scale":{"domain":[0,1751],"range":[0,1751],"nice":false,"zero":false},"axis":null},"y":{"field":"y","type":"quantitative","scale":{"domain":[0,1156],"range":[0,1156],"nice":false,"zero":false},"axis":null},"text":{"field":"label","type":"nominal"}}},
{"data":{"name":"proc_box"},"mark":{"type":"rect","cornerRadius":14,"stroke":"#9c9c9c","strokeWidth":3,"fill":{"gradient":"linear","x1":0,"y1":0,"x2":0,"y2":1,"stops":[{"offset":0,"color":"#fbfbfb"},{"offset":1,"color":"#b3b3b3"}]}},"encoding":{"x":{"field":"x","type":"quantitative","scale":{"domain":[0,1751],"range":[0,1751],"nice":false,"zero":false},"axis":null},"x2":{"field":"x2"},"y":{"field":"y","type":"quantitative","scale":{"domain":[0,1156],"range":[0,1156],"nice":false,"zero":false},"axis":null},"y2":{"field":"y2"}}},
{"data":{"name":"proc_box"},"mark":{"type":"text","font":"Liberation Serif","fontSize":50,"color":"#1e1e1e","align":"center","baseline":"alphabetic","lineHeight":60},"encoding":{"x":{"field":"tx","type":"quantitative","scale":{"domain":[0,1751],"range":[0,1751],"nice":false,"zero":false},"axis":null},"y":{"field":"ty","type":"quantitative","scale":{"domain":[0,1156],"range":[0,1156],"nice":false,"zero":false},"axis":null},"text":{"field":"label","type":"nominal"}}},
{"data":{"name":"outputs"},"mark":{"type":"point","filled":true,"size":4,"opacity":1,"stroke":"#8a8a14","strokeWidth":3.5,"fill":{"gradient":"linear","x1":0,"y1":0,"x2":0,"y2":1,"stops":[{"offset":0,"color":"#f3f6de"},{"offset":0.5,"color":"#cbdc4c"},{"offset":1,"color":"#aacb46"}]}},"encoding":{"x":{"field":"cx","type":"quantitative","scale":{"domain":[0,1751],"range":[0,1751],"nice":false,"zero":false},"axis":null},"y":{"field":"cy","type":"quantitative","scale":{"domain":[0,1156],"range":[0,1156],"nice":false,"zero":false},"axis":null},"shape":{"field":"id","type":"nominal","scale":{"domain":["pos","mot","typ"],"range":["M-206.5,0A206.5,56,0,1,0,206.5,0A206.5,56,0,1,0,-206.5,0Z","M-193,0A193,49,0,1,0,193,0A193,49,0,1,0,-193,0Z","M-311.5,0A311.5,100,0,1,0,311.5,0A311.5,100,0,1,0,-311.5,0Z"]},"legend":null}}},
{"data":{"name":"outputs"},"transform":[{"filter":"datum.id !== 'typ'"}],"mark":{"type":"text","font":"Liberation Serif","fontSize":50,"color":"#1e1e1e","align":"center","baseline":"alphabetic"},"encoding":{"x":{"field":"tx","type":"quantitative","scale":{"domain":[0,1751],"range":[0,1751],"nice":false,"zero":false},"axis":null},"y":{"field":"ty","type":"quantitative","scale":{"domain":[0,1156],"range":[0,1156],"nice":false,"zero":false},"axis":null},"text":{"field":"label","type":"nominal"}}},
{"data":{"name":"outputs"},"transform":[{"filter":"datum.id === 'typ'"}],"mark":{"type":"text","font":"Liberation Serif","fontSize":50,"color":"#1e1e1e","align":"left","baseline":"alphabetic","lineHeight":60},"encoding":{"x":{"field":"tx","type":"quantitative","scale":{"domain":[0,1751],"range":[0,1751],"nice":false,"zero":false},"axis":null},"y":{"field":"ty","type":"quantitative","scale":{"domain":[0,1156],"range":[0,1156],"nice":false,"zero":false},"axis":null},"text":{"field":"label","type":"nominal"}}},
{"data":{"name":"arrows"},"mark":{"type":"rule","color":"#1b1b1b","strokeWidth":3.2},"encoding":{"x":{"field":"x0","type":"quantitative","scale":{"domain":[0,1751],"range":[0,1751],"nice":false,"zero":false},"axis":null},"y":{"field":"y0","type":"quantitative","scale":{"domain":[0,1156],"range":[0,1156],"nice":false,"zero":false},"axis":null},"x2":{"field":"x1"},"y2":{"field":"y1"}}},
{"data":{"name":"arrows"},"mark":{"type":"point","shape":"M0,-1L0.8,0.75L0,0.4L-0.8,0.75Z","size":484,"filled":true,"opacity":1,"color":"#1b1b1b","angle":{"expr":"atan2(datum.x1 - datum.x0, datum.y0 - datum.y1) * 180 / PI"}},"encoding":{"x":{"field":"x1","type":"quantitative","scale":{"domain":[0,1751],"range":[0,1751],"nice":false,"zero":false},"axis":null},"y":{"field":"y1","type":"quantitative","scale":{"domain":[0,1156],"range":[0,1156],"nice":false,"zero":false},"axis":null}}}
]
},
{
"layer":[
{"data":{"name":"bp"},"transform":[{"fold":["c0","c1","c2","c3","c4","c5","c6","c7","c8","c9","c10","c11","c12","c13","c14","c15","c16","c17"],"as":["key","count"]}],
"mark":{"type":"line","interpolate":"monotone","strokeWidth":1.3},
"encoding":{
"x":{"field":"s","type":"quantitative","scale":{"domain":[48.1,0],"range":[516,817.7],"nice":false,"zero":false},"axis":{"orient":"bottom","offset":-705,"values":[33.8,22.2,12.2,6.2],"labelExpr":"datum.value > 30 ? '400' : datum.value > 20 ? '500' : datum.value > 10 ? '680' : '900'","ticks":false,"labelFontSize":18,"labelPadding":9,"title":"λ (nm)","titleFontSize":18,"titlePadding":1}},
"y":{"field":"count","type":"quantitative","scale":{"domain":[-0.03,3.51],"range":[451,133.3],"nice":false,"zero":false},"axis":{"orient":"left","offset":-516,"values":[0,0.5,1,1.5,2,2.5,3],"format":".1f","ticks":false,"labelFontSize":18,"labelPadding":5,"title":"BP counts (10³ photons)","titleFontSize":18.5,"titlePadding":9}},
"color":{"field":"key","type":"nominal","scale":{"domain":["c0","c1","c2","c3","c4","c5","c6","c7","c8","c9","c10","c11","c12","c13","c14","c15","c16","c17"],"range":["#111111","#3b2f9e","#4043b0","#4558c0","#4a6fcc","#3f88d6","#35a3de","#2aa3b4","#22a088","#1f9a60","#2c9e48","#55ab3c","#9cc43a","#e8e022","#f0b83a","#e4843a","#d85a34","#c8382a"]},"legend":null}}},
{"data":{"values":[{"s":0,"count":0}]},"mark":{"type":"point","opacity":0},"encoding":{
"x":{"field":"s","type":"quantitative","scale":{"domain":[48.1,0],"range":[516,817.7],"nice":false,"zero":false},"axis":{"orient":"top","offset":-133.3,"values":[40,30,20,10,0],"ticks":false,"labelFontSize":18,"labelPadding":5,"title":"sample","titleFontSize":16,"titlePadding":2}},
"y":{"field":"count","type":"quantitative","scale":{"domain":[-0.03,3.51],"range":[451,133.3],"nice":false,"zero":false},"axis":{"orient":"right","offset":-933.3,"labels":false,"ticks":false,"title":null}}}},
{"data":{"values":[{"s":0,"count":0}]},"mark":{"type":"point","opacity":0},"encoding":{
"x":{"field":"s","type":"quantitative","scale":{"domain":[48.1,0],"range":[516,817.7],"nice":false,"zero":false},"axis":{"orient":"bottom","offset":-1022.7,"values":[0,1,2,3,4,5,6,7,8,9,10,11,12,13,14,15,16,17,18,19,20,21,22,23,24,25,26,27,28,29,30,31,32,33,34,35,36,37,38,39,40,41,42,43,44,45,46,47,48],"labels":false,"domain":false,"tickSize":4,"title":null}},
"y":{"field":"count","type":"quantitative","scale":{"domain":[-0.03,3.51],"range":[451,133.3],"nice":false,"zero":false},"axis":{"orient":"right","offset":-1235,"values":[0,0.1,0.2,0.3,0.4,0.5,0.6,0.7,0.8,0.9,1,1.1,1.2,1.3,1.4,1.5,1.6,1.7,1.8,1.9,2,2.1,2.2,2.3,2.4,2.5,2.6,2.7,2.8,2.9,3,3.1,3.2,3.3,3.4,3.5],"labels":false,"domain":false,"tickSize":4,"title":null}}}},
{"data":{"values":[{"s":0,"count":0}]},"mark":{"type":"point","opacity":0},"encoding":{
"x":{"field":"s","type":"quantitative","scale":{"domain":[48.1,0],"range":[516,817.7],"nice":false,"zero":false},"axis":{"orient":"bottom","offset":-1022.7,"values":[40,30,20,10],"labels":false,"domain":false,"tickSize":8,"title":null}},
"y":{"field":"count","type":"quantitative","scale":{"domain":[-0.03,3.51],"range":[451,133.3],"nice":false,"zero":false},"axis":{"orient":"right","offset":-1235,"values":[0.5,1,1.5,2,2.5,3],"labels":false,"domain":false,"tickSize":9,"title":null}}}},
{"data":{"values":[{"s":0,"count":0}]},"mark":{"type":"point","opacity":0},"encoding":{
"x":{"field":"s","type":"quantitative","scale":{"domain":[48.1,0],"range":[516,817.7],"nice":false,"zero":false},"axis":{"orient":"top","offset":-451,"values":[33.8,22.2,12.2,6.2],"labels":false,"domain":false,"tickSize":8,"title":null}},
"y":{"field":"count","type":"quantitative","scale":{"domain":[-0.03,3.51],"range":[451,133.3],"nice":false,"zero":false},"axis":{"orient":"left","offset":-817.7,"values":[0,0.1,0.2,0.3,0.4,0.5,0.6,0.7,0.8,0.9,1,1.1,1.2,1.3,1.4,1.5,1.6,1.7,1.8,1.9,2,2.1,2.2,2.3,2.4,2.5,2.6,2.7,2.8,2.9,3,3.1,3.2,3.3,3.4,3.5],"labels":false,"domain":false,"tickSize":4,"title":null}}}},
{"data":{"values":[{"s":0,"count":0}]},"mark":{"type":"point","opacity":0},"encoding":{
"x":{"field":"s","type":"quantitative","scale":{"domain":[48.1,0],"range":[516,817.7],"nice":false,"zero":false},"axis":null},
"y":{"field":"count","type":"quantitative","scale":{"domain":[-0.03,3.51],"range":[451,133.3],"nice":false,"zero":false},"axis":{"orient":"left","offset":-817.7,"values":[0.5,1,1.5,2,2.5,3],"labels":false,"domain":false,"tickSize":9,"title":null}}}}
],
"resolve":{"axis":{"x":"independent","y":"independent"}}
},
{
"layer":[
{"data":{"name":"rp"},"transform":[{"fold":["c0","c1","c2","c3","c4","c5","c6","c7","c8","c9","c10","c11","c12","c13","c14","c15","c16","c17"],"as":["key","count"]}],
"mark":{"type":"line","interpolate":"monotone","strokeWidth":1.3},
"encoding":{
"x":{"field":"s","type":"quantitative","scale":{"domain":[60,0],"range":[941,1241.7],"nice":false,"zero":false},"axis":{"orient":"bottom","offset":-705,"values":[46.6,38.5,27.5,19.2,12.05],"labelExpr":"datum.value > 45 ? '640' : datum.value > 35 ? '700' : datum.value > 25 ? '800' : datum.value > 15 ? '900' : '1000'","ticks":false,"labelFontSize":18,"labelPadding":9,"title":"λ (nm)","titleFontSize":18,"titlePadding":1}},
"y":{"field":"count","type":"quantitative","scale":{"domain":[-0.03,3.51],"range":[451,133.3],"nice":false,"zero":false},"axis":{"orient":"left","offset":-941,"values":[0,0.5,1,1.5,2,2.5,3],"format":".1f","ticks":false,"labelFontSize":18,"labelPadding":5,"title":"RP counts (10³ photons)","titleFontSize":18.5,"titlePadding":9}},
"color":{"field":"key","type":"nominal","scale":{"domain":["c0","c1","c2","c3","c4","c5","c6","c7","c8","c9","c10","c11","c12","c13","c14","c15","c16","c17"],"range":["#111111","#3b2f9e","#4043b0","#4558c0","#4a6fcc","#3f88d6","#35a3de","#2aa3b4","#22a088","#1f9a60","#2c9e48","#55ab3c","#9cc43a","#e8e022","#f0b83a","#e4843a","#d85a34","#c8382a"]},"legend":null}}},
{"data":{"values":[{"s":0,"count":0}]},"mark":{"type":"point","opacity":0},"encoding":{
"x":{"field":"s","type":"quantitative","scale":{"domain":[60,0],"range":[941,1241.7],"nice":false,"zero":false},"axis":{"orient":"top","offset":-133.3,"values":[60,50,40,30,20,10,0],"ticks":false,"labelFontSize":18,"labelPadding":5,"title":"sample","titleFontSize":16,"titlePadding":2}},
"y":{"field":"count","type":"quantitative","scale":{"domain":[-0.03,3.51],"range":[451,133.3],"nice":false,"zero":false},"axis":{"orient":"right","offset":-509.3,"labels":false,"ticks":false,"title":null}}}},
{"data":{"values":[{"s":0,"count":0}]},"mark":{"type":"point","opacity":0},"encoding":{
"x":{"field":"s","type":"quantitative","scale":{"domain":[60,0],"range":[941,1241.7],"nice":false,"zero":false},"axis":{"orient":"bottom","offset":-1022.7,"values":[0,1,2,3,4,5,6,7,8,9,10,11,12,13,14,15,16,17,18,19,20,21,22,23,24,25,26,27,28,29,30,31,32,33,34,35,36,37,38,39,40,41,42,43,44,45,46,47,48,49,50,51,52,53,54,55,56,57,58,59,60],"labels":false,"domain":false,"tickSize":4,"title":null}},
"y":{"field":"count","type":"quantitative","scale":{"domain":[-0.03,3.51],"range":[451,133.3],"nice":false,"zero":false},"axis":{"orient":"right","offset":-810,"values":[0,0.1,0.2,0.3,0.4,0.5,0.6,0.7,0.8,0.9,1,1.1,1.2,1.3,1.4,1.5,1.6,1.7,1.8,1.9,2,2.1,2.2,2.3,2.4,2.5,2.6,2.7,2.8,2.9,3,3.1,3.2,3.3,3.4,3.5],"labels":false,"domain":false,"tickSize":4,"title":null}}}},
{"data":{"values":[{"s":0,"count":0}]},"mark":{"type":"point","opacity":0},"encoding":{
"x":{"field":"s","type":"quantitative","scale":{"domain":[60,0],"range":[941,1241.7],"nice":false,"zero":false},"axis":{"orient":"bottom","offset":-1022.7,"values":[50,40,30,20,10],"labels":false,"domain":false,"tickSize":8,"title":null}},
"y":{"field":"count","type":"quantitative","scale":{"domain":[-0.03,3.51],"range":[451,133.3],"nice":false,"zero":false},"axis":{"orient":"right","offset":-810,"values":[0.5,1,1.5,2,2.5,3],"labels":false,"domain":false,"tickSize":9,"title":null}}}},
{"data":{"values":[{"s":0,"count":0}]},"mark":{"type":"point","opacity":0},"encoding":{
"x":{"field":"s","type":"quantitative","scale":{"domain":[60,0],"range":[941,1241.7],"nice":false,"zero":false},"axis":{"orient":"top","offset":-451,"values":[46.6,38.5,27.5,19.2,12.05],"labels":false,"domain":false,"tickSize":8,"title":null}},
"y":{"field":"count","type":"quantitative","scale":{"domain":[-0.03,3.51],"range":[451,133.3],"nice":false,"zero":false},"axis":{"orient":"left","offset":-1241.7,"values":[0,0.1,0.2,0.3,0.4,0.5,0.6,0.7,0.8,0.9,1,1.1,1.2,1.3,1.4,1.5,1.6,1.7,1.8,1.9,2,2.1,2.2,2.3,2.4,2.5,2.6,2.7,2.8,2.9,3,3.1,3.2,3.3,3.4,3.5],"labels":false,"domain":false,"tickSize":4,"title":null}}}},
{"data":{"values":[{"s":0,"count":0}]},"mark":{"type":"point","opacity":0},"encoding":{
"x":{"field":"s","type":"quantitative","scale":{"domain":[60,0],"range":[941,1241.7],"nice":false,"zero":false},"axis":null},
"y":{"field":"count","type":"quantitative","scale":{"domain":[-0.03,3.51],"range":[451,133.3],"nice":false,"zero":false},"axis":{"orient":"left","offset":-1241.7,"values":[0.5,1,1.5,2,2.5,3],"labels":false,"domain":false,"tickSize":9,"title":null}}}}
],
"resolve":{"axis":{"x":"independent","y":"independent"}}
},
{
"layer":[
{"data":{"name":"lsf"},"mark":{"type":"line","interpolate":"monotone","strokeWidth":2,"color":"#d2492c"},"encoding":{
"x":{"field":"pos","type":"quantitative","scale":{"domain":[-10,10],"range":[102.3,454.3],"nice":false,"zero":false},"axis":{"orient":"bottom","offset":-358.3,"values":[-10,-5,0,5,10],"ticks":false,"domainWidth":1.3,"labelFontSize":15.5,"labelPadding":7,"title":"AL position [pixel]","titleFontSize":15.5,"titlePadding":2}},
"y":{"field":"intensity","type":"quantitative","scale":{"domain":[-0.0036,0.5039],"range":[797.7,533.3],"nice":false,"zero":false},"axis":{"orient":"left","offset":-102.3,"values":[0,0.1,0.2,0.3,0.4,0.5],"format":".1f","ticks":false,"domainWidth":1.3,"labelFontSize":15.5,"labelPadding":4,"title":"Relative intensity","titleFontSize":15,"titlePadding":7}}}},
{"data":{"values":[{"pos":0,"intensity":0}]},"mark":{"type":"point","opacity":0},"encoding":{
"x":{"field":"pos","type":"quantitative","scale":{"domain":[-10,10],"range":[102.3,454.3],"nice":false,"zero":false},"axis":{"orient":"top","offset":-533.3,"labels":false,"ticks":false,"domainWidth":1.3,"title":"Gaia LSF: AF S6R7T1 (V-I)=+2.0","titleFontSize":15,"titlePadding":4}},
"y":{"field":"intensity","type":"quantitative","scale":{"domain":[-0.0036,0.5039],"range":[797.7,533.3],"nice":false,"zero":false},"axis":{"orient":"right","offset":-1296.7,"labels":false,"ticks":false,"domainWidth":1.3,"title":null}}}},
{"data":{"values":[{"pos":0,"intensity":0}]},"mark":{"type":"point","opacity":0},"encoding":{
"x":{"field":"pos","type":"quantitative","scale":{"domain":[-10,10],"range":[102.3,454.3],"nice":false,"zero":false},"axis":{"orient":"top","offset":-797.7,"values":[-5,0,5],"labels":false,"domain":false,"tickSize":6,"title":null}},
"y":{"field":"intensity","type":"quantitative","scale":{"domain":[-0.0036,0.5039],"range":[797.7,533.3],"nice":false,"zero":false},"axis":{"orient":"right","offset":-1648.7,"values":[0.1,0.2,0.3,0.4],"labels":false,"domain":false,"tickSize":8,"title":null}}}},
{"data":{"values":[{"pos":0,"intensity":0}]},"mark":{"type":"point","opacity":0},"encoding":{
"x":{"field":"pos","type":"quantitative","scale":{"domain":[-10,10],"range":[102.3,454.3],"nice":false,"zero":false},"axis":{"orient":"bottom","offset":-622.7,"values":[-5,0,5],"labels":false,"domain":false,"tickSize":6,"title":null}},
"y":{"field":"intensity","type":"quantitative","scale":{"domain":[-0.0036,0.5039],"range":[797.7,533.3],"nice":false,"zero":false},"axis":{"orient":"left","offset":-454.3,"values":[0.1,0.2,0.3,0.4],"labels":false,"domain":false,"tickSize":8,"title":null}}}}
],
"resolve":{"axis":{"x":"independent","y":"independent"}}
},
{
"layer":[
{"data":{"name":"spec_hi"},"mark":{"type":"line","strokeWidth":1.1,"color":"#2a2a2a"},"encoding":{
"x":{"field":"wl","type":"quantitative","scale":{"domain":[8490.2,8750.5],"range":[1174,1725.4],"nice":false,"zero":false},"axis":{"orient":"bottom","offset":-391,"values":[8500,8550,8600,8650,8700],"format":"d","ticks":false,"domainColor":"#444444","labelFontSize":17,"labelPadding":5,"labelColor":"#333333","title":null}},
"y":{"field":"flux","type":"quantitative","scale":{"domain":[-0.271,1.3125],"range":[765,511.7],"nice":false,"zero":false},"axis":{"orient":"left","offset":-1174,"labels":false,"ticks":false,"domainColor":"#444444","title":null}}}},
{"data":{"name":"spec_lo"},"mark":{"type":"line","strokeWidth":1,"color":"#1a1a1a"},"encoding":{
"x":{"field":"wl","type":"quantitative","scale":{"domain":[8490.2,8750.5],"range":[1174,1725.4],"nice":false,"zero":false},"axis":{"orient":"top","offset":-511.7,"labels":false,"ticks":false,"domainColor":"#444444","title":null}},
"y":{"field":"flux","type":"quantitative","scale":{"domain":[-0.271,1.3125],"range":[765,511.7],"nice":false,"zero":false},"axis":{"orient":"right","offset":-25.6,"labels":false,"ticks":false,"domainColor":"#444444","title":null}}}},
{"data":{"name":"spec_notes"},"mark":{"type":"text","font":"Liberation Mono","fontSize":13.5,"color":"#333333","align":"center","baseline":"middle"},"encoding":{
"x":{"field":"wl","type":"quantitative","scale":{"domain":[8490.2,8750.5],"range":[1174,1725.4],"nice":false,"zero":false},"axis":{"orient":"top","offset":-765,"values":[8500,8510,8520,8530,8540,8550,8560,8570,8580,8590,8600,8610,8620,8630,8640,8650,8660,8670,8680,8690,8700,8710,8720,8730,8740],"labels":false,"domain":false,"tickSize":7,"tickColor":"#555555","title":null}},
"y":{"field":"flux","type":"quantitative","scale":{"domain":[-0.271,1.3125],"range":[765,511.7],"nice":false,"zero":false},"axis":null},
"text":{"field":"label","type":"nominal"}}},
{"data":{"name":"spec_sn"},"mark":{"type":"text","font":"Liberation Mono","fontSize":15,"color":"#333333","align":"center","baseline":"middle"},"encoding":{
"x":{"field":"wl","type":"quantitative","scale":{"domain":[8490.2,8750.5],"range":[1174,1725.4],"nice":false,"zero":false},"axis":null},
"y":{"field":"flux","type":"quantitative","scale":{"domain":[-0.271,1.3125],"range":[765,511.7],"nice":false,"zero":false},"axis":null},
"text":{"field":"label","type":"nominal"}}},
{"data":{"name":"spec_unit"},"mark":{"type":"text","font":"Liberation Sans","fontSize":14,"color":"#333333","align":"center","baseline":"middle"},"encoding":{
"x":{"field":"wl","type":"quantitative","scale":{"domain":[8490.2,8750.5],"range":[1174,1725.4],"nice":false,"zero":false},"axis":null},
"y":{"field":"flux","type":"quantitative","scale":{"domain":[-0.271,1.3125],"range":[765,511.7],"nice":false,"zero":false},"axis":null},
"text":{"field":"label","type":"nominal"}}}
],
"resolve":{"axis":{"x":"independent","y":"independent"}}
}
],
"resolve":{"scale":{"x":"independent","y":"independent"},"axis":{"x":"independent","y":"independent"}}
}
